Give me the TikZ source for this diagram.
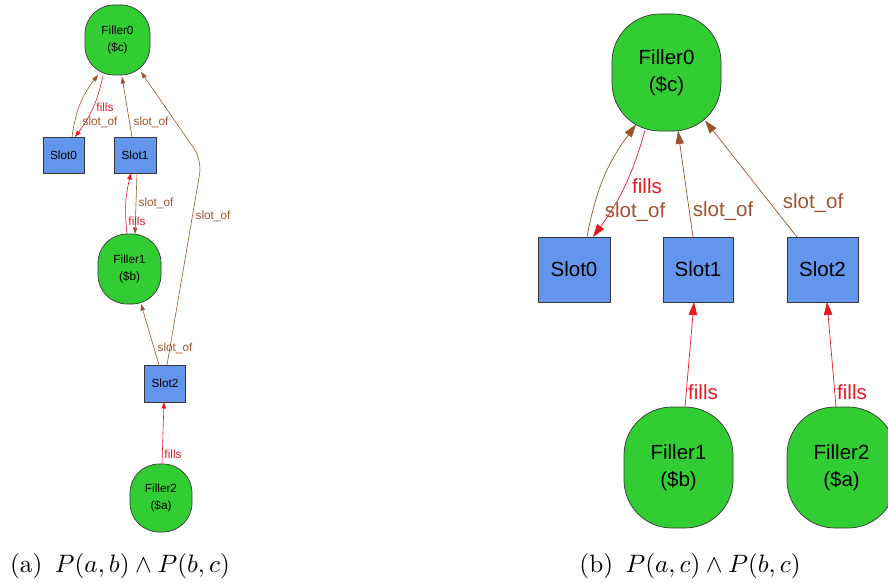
\documentclass[tikz,border=0pt]{standalone}
\usepackage{fontspec}
\newfontfamily\arialfont{Liberation Sans}
\usetikzlibrary{arrows.meta}
\definecolor{fillgreen}{RGB}{50,205,50}
\definecolor{slotblue}{RGB}{100,149,237}
\definecolor{slotbrown}{RGB}{160,82,45}
\definecolor{fillred}{RGB}{232,24,32}
\definecolor{bordergray}{RGB}{55,55,55}

\begin{document}
\begin{tikzpicture}[x=1pt,y=-1pt,
every node/.style={
inner sep=0pt,
align = center,
anchor=center,
},
filler/.style={
draw=bordergray,
fill=fillgreen,
line width=0.7pt,
},
slot/.style={
draw=bordergray,
fill=slotblue,
line width=0.7pt,
},
lefttext/.style={font=\arialfont\fontsize{11.8}{16.5}\selectfont},
righttext/.style={font=\arialfont\fontsize{20.5}{27}\selectfont},
slotof/.style={draw=slotbrown},
fills/.style={draw=fillred},
slotlab/.style={text=slotbrown},
filllab/.style={text=fillred},
tipa/.style={-{Triangle[length=6.5pt,width=4.5pt]},line width=0.6pt},
tipb/.style={-{Triangle[length=13pt,width=8.5pt]},line width=0.7pt},
]
\useasboundingbox (0,0) rectangle (888,583);

%(a) left graph
\node[filler,lefttext,minimum width=65pt,minimum height=70pt,rounded corners=29pt](afiller0)at(117.5,40){Filler0\\(\$c)};
\node[slot,lefttext,minimum width=41pt,minimum height=36pt](aslot0)at(63.5,155){Slot0};
\node[slot,lefttext,minimum width=42pt,minimum height=36pt](aslot1)at(135,155){Slot1};
\node[filler,lefttext,minimum width=63pt,minimum height=70pt,rounded corners=29pt](afiller1)at(129.5,269){Filler1\\(\$b)};
\node[slot,lefttext,minimum width=41pt,minimum height=37pt](aslot2)at(165,383.5){Slot2};
\node[filler,lefttext,minimum width=62pt,minimum height=68pt,rounded corners=29pt](afiller2)at(161,498){Filler2\\(\$a)};
\coordinate(abend)at(202,160);

\draw[slotof,tipa]([shift={(8.5,-18)}]aslot0.center) to[bend left=15] ([shift={(-19.5,35)}]afiller0.center);
\draw[fills,tipa]([shift={(-14.5,36)}]afiller0.center) to[bend left=12] ([shift={(11.5,-18)}]aslot0.center);
\draw[slotof,tipa]([shift={(-3,-18)}]aslot1.center) -- ([shift={(4.5,37)}]afiller0.center);
\draw[slotof,tipa]([shift={(2,18)}]aslot1.center) -- ([shift={(5.5,-35)}]afiller1.center);
\draw[fills,tipa]([shift={(-2.5,-35)}]afiller1.center) to[bend left=10] ([shift={(-4,18)}]aslot1.center);
\draw[slotof,tipa]([shift={(-6,-18.5)}]aslot2.center) -- ([shift={(11.5,35)}]afiller1.center);
\draw[slotof,tipa,rounded corners=14pt]([shift={(2,-18.5)}]aslot2.center) -- (abend) -- ([shift={(23.5,32)}]afiller0.center);
\draw[fills,tipa]([shift={(1,-34)}]afiller2.center) -- ([shift={(-1,18.5)}]aslot2.center);

\node[filllab,lefttext](alab1)at(105,107){fills};
\node[slotlab,lefttext](alab2)at(100,122){slot\_of};
\node[slotlab,lefttext](alab3)at(151,122){slot\_of};
\node[slotlab,lefttext](alab4)at(156,203){slot\_of};
\node[filllab,lefttext](alab5)at(137,221){fills};
\node[slotlab,lefttext](alab6)at(213,216){slot\_of};
\node[slotlab,lefttext](alab7)at(175,348){slot\_of};
\node[filllab,lefttext](alab8)at(173,454){fills};

%(b) right graph
\node[filler,righttext,minimum width=109pt,minimum height=117pt,rounded corners=48pt](bfiller0)at(666.5,72.5){Filler0\\(\$c)};
\node[slot,righttext,minimum width=72pt,minimum height=65pt](bslot0)at(574,269.5){Slot0};
\node[slot,righttext,minimum width=70pt,minimum height=65pt](bslot1)at(698,269.5){Slot1};
\node[slot,righttext,minimum width=71pt,minimum height=65pt](bslot2)at(822.5,269.5){Slot2};
\node[filler,righttext,minimum width=109pt,minimum height=121pt,rounded corners=48pt](bfiller1)at(678.5,467.5){Filler1\\(\$b)};
\node[filler,righttext,minimum width=109pt,minimum height=121pt,rounded corners=48pt](bfiller2)at(841.5,467.5){Filler2\\(\$a)};

\draw[slotof,tipb]([shift={(13,-32.5)}]bslot0.center) to[bend left=13] ([shift={(-30.5,52)}]bfiller0.center);
\draw[fills,tipb]([shift={(-21.5,58)}]bfiller0.center) to[bend left=10] ([shift={(19,-32.5)}]bslot0.center);
\draw[slotof,tipb]([shift={(-5,-32.5)}]bslot1.center) -- ([shift={(11.5,58.5)}]bfiller0.center);
\draw[slotof,tipb]([shift={(-25.5,-32.5)}]bslot2.center) -- ([shift={(38.5,48)}]bfiller0.center);
\draw[fills,tipb]([shift={(6.5,-60.5)}]bfiller1.center) -- ([shift={(-4,32.5)}]bslot1.center);
\draw[fills,tipb]([shift={(-5.5,-60.5)}]bfiller2.center) -- ([shift={(4.5,32.5)}]bslot2.center);

\node[filllab,righttext](blab1)at(647,186){fills};
\node[slotlab,righttext](blab2)at(635,212){slot\_of};
\node[slotlab,righttext](blab3)at(723,211){slot\_of};
\node[slotlab,righttext](blab4)at(813,203){slot\_of};
\node[filllab,righttext](blab5)at(703,392){fills};
\node[filllab,righttext](blab6)at(852,392){fills};

%captions
\node[scale=2.52](capa)at(120,566){(a)\enspace$P(a,b)\wedge P(b,c)$};
\node[scale=2.52](capb)at(690,566){(b)\enspace$P(a,c)\wedge P(b,c)$};
\end{tikzpicture}
\end{document}
